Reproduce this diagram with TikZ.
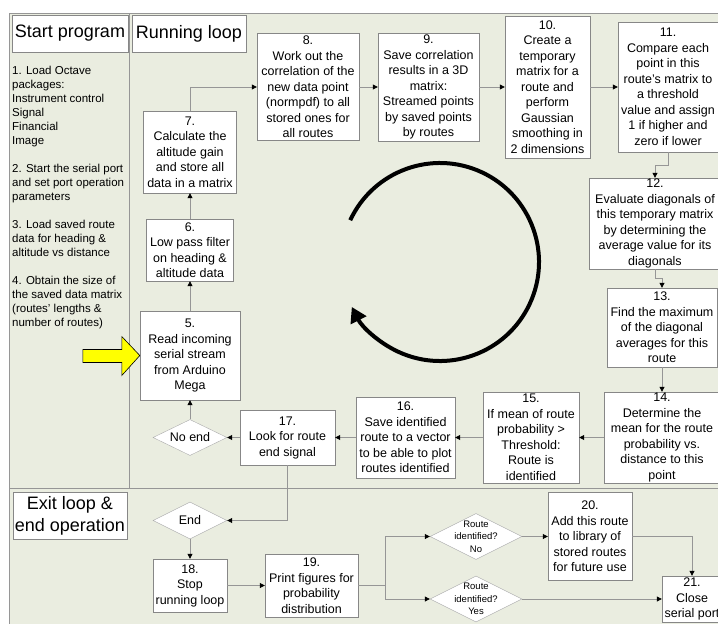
\documentclass[tikz,border=0pt]{standalone}
\usepackage{fontspec}
\setmainfont{Liberation Sans}
\usetikzlibrary{shapes.geometric, arrows.meta, positioning, calc}
\definecolor{lanefill}{RGB}{234, 237, 224}
\definecolor{laneline}{RGB}{150, 150, 150}
\definecolor{boxline}{RGB}{135, 135, 135}
\definecolor{startyellow}{RGB}{255, 255, 0}
\newcommand{\boxfont}{\fontsize{12.5}{15.5}\selectfont}
\newcommand{\notefont}{\fontsize{11.5}{14}\selectfont}
\newcommand{\lanefont}{\fontsize{18}{22}\selectfont}
\newcommand{\askfont}{\fontsize{9.5}{12.5}\selectfont}
\tikzset{
  stepbox/.style={draw=boxline, fill=white, align=center, inner sep=1pt, font=\boxfont},
  decision/.style={diamond, draw=boxline!70, fill=white, inner sep=0pt},
  lanetitle/.style={draw=boxline, fill=white, align=center, inner sep=1pt, font=\lanefont},
  flow/.style={draw=laneline, line width=0.8pt, -{Triangle[length=5pt, width=5pt, color=black]}},
}

\begin{document}
\begin{tikzpicture}[x=1pt, y=-1pt]
  \useasboundingbox (0,0) rectangle (718,624);

  % Lanes
  \fill[lanefill] (9,13) rectangle (740,640);
  \draw[laneline] (740,13) -- (9,13) -- (9,640);
  \draw[laneline] (129,13) -- (129,488);
  \draw[laneline] (9,488) -- (740,488);

  \node[lanetitle, minimum width=116, minimum height=37] (tstart) at (70,33.5) {Start program};
  \node[lanetitle, minimum width=114, minimum height=37] (trun) at (189,33.5) {Running loop};
  \node[lanetitle, minimum width=114, minimum height=47] (texit) at (70,515.5) {Exit loop \&\\end operation};

  % Start program
  \node[font=\notefont, align=left, anchor=north west, inner sep=0pt] (notes) at (12,66) {
    1. Load Octave\\packages:\\Instrument control\\Signal\\Financial\\Image\\[14pt]
    2. Start the serial port\\and set port operation\\parameters\\[14pt]
    3. Load saved route\\data for heading \&\\altitude vs distance\\[14pt]
    4. Obtain the size of\\the saved data matrix\\(routes’ lengths \&\\number of routes)
  };

  % Running loop
  \node[stepbox, minimum width=100, minimum height=89] (s5) at (190,355.5) {5.\\Read incoming\\serial stream\\from Arduino\\Mega};
  \node[stepbox, minimum width=87, minimum height=62] (s6) at (190,250) {6.\\Low pass filter\\on heading \&\\altitude data};
  \node[stepbox, minimum width=93, minimum height=82] (s7) at (190,152) {7.\\Calculate the\\altitude gain\\and store all\\data in a matrix};
  \node[stepbox, minimum width=102, minimum height=107] (s8) at (308,87) {8.\\Work out the\\correlation of the\\new data point\\(normpdf) to all\\stored ones for\\all routes};
  \node[stepbox, minimum width=101, minimum height=108] (s9) at (428.5,87) {9.\\Save correlation\\results in a 3D\\matrix:\\Streamed points\\by saved points\\by routes};
  \node[stepbox, minimum width=85, minimum height=142] (s10) at (547.5,87) {10.\\Create a\\temporary\\matrix for a\\route and\\perform\\Gaussian\\smoothing in\\2 dimensions};
  \node[stepbox, minimum width=100, minimum height=130] (s11) at (668,87) {11.\\Compare each\\point in this\\route’s matrix to\\a threshold\\value and assign\\1 if higher and\\zero if lower};
  \node[stepbox, minimum width=132, minimum height=91] (s12) at (655,223.5) {12.\\Evaluate diagonals of\\this temporary matrix\\by determining the\\average value for its\\diagonals};
  \node[stepbox, minimum width=110, minimum height=79] (s13) at (662,327.5) {13.\\Find the maximum\\of the diagonal\\averages for this\\route};
  \node[stepbox, minimum width=116, minimum height=91] (s14) at (662,437.5) {14.\\Determine the\\mean for the route\\probability vs.\\distance to this\\point};
  \node[stepbox, minimum width=96, minimum height=91] (s15) at (531,437.5) {15.\\If mean of route\\probability >\\Threshold:\\Route is\\identified};
  \node[stepbox, minimum width=99, minimum height=81] (s16) at (405.5,437.5) {16.\\Save identified\\route to a vector\\to be able to plot\\routes identified};
  \node[stepbox, minimum width=95, minimum height=55] (s17) at (287.5,437.5) {17.\\Look for route\\end signal};
  \node[decision, minimum width=74, minimum height=36, label={[font=\boxfont]center:No end}] (noend) at (190,437.5) {};

  % Yellow start arrow
  \filldraw[fill=startyellow, draw=black, line width=0.6pt] (s5.west) -- ++(-18,-19) -- ++(0,13) -- ++(-39,0) -- ++(0,13) -- ++(39,0) -- ++(0,13) -- cycle;

  % Loop symbol
  \draw[line width=4pt, -{Triangle[length=15pt, width=17pt]}] (440,262) ++(205:99) arc[start angle=205, end angle=513, radius=99];

  \draw[flow] (s5) -- (s6);
  \draw[flow] (s6) -- (s7);
  \draw[flow] (s7.north) |- (s8.west);
  \draw[flow] (s8) -- (s9);
  \draw[flow] (s9) -- (s10);
  \draw[flow] (s10) -- (s11);
  \draw[flow] (s11.south) -- ++(0,13) -| (s12.north);
  \draw[flow] (s12.south) -- ++(0,9) -| (s13.north);
  \draw[flow] (s13) -- (s14);
  \draw[flow] (s14) -- (s15);
  \draw[flow] (s15) -- (s16);
  \draw[flow] (s16) -- (s17);
  \draw[flow] (s17) -- (noend);
  \draw[flow] (noend) -- (s5);

  % Exit loop
  \node[decision, minimum width=74, minimum height=37, label={[font=\boxfont]center:End}] (endq) at (190,520.5) {};
  \node[stepbox, minimum width=74, minimum height=53] (s18) at (190,585.5) {18.\\Stop\\running loop};
  \node[stepbox, minimum width=93, minimum height=63] (s19) at (311.5,585.5) {19.\\Print figures for\\probability\\distribution};
  \node[decision, minimum width=92, minimum height=46, label={[font=\askfont, align=center]center:Route\\identified?\\No}] (qno) at (476,536.5) {};
  \node[decision, minimum width=92, minimum height=46, label={[font=\askfont, align=center]center:Route\\identified?\\Yes}] (qyes) at (476,599) {};
  \node[stepbox, minimum width=84, minimum height=88] (s20) at (590,536.5) {20.\\Add this route\\to library of\\stored routes\\for future use};
  \node[stepbox, minimum width=60, minimum height=46] (s21) at (692,599) {21.\\Close\\serial port};

  \draw[flow] (s17.south) |- (endq.east);
  \draw[flow] (endq) -- (s18);
  \draw[flow] (s18) -- (s19);
  \draw[flow] (s19.east) -- ++(27,0) |- (qno.west);
  \draw[flow] (s19.east) -- ++(27,0) |- (qyes.west);
  \draw[flow] (qno) -- (s20);
  \draw[flow] (s20.east) -| (s21.north);
  \draw[flow] (qyes) -- (s21);
\end{tikzpicture}
\end{document}
